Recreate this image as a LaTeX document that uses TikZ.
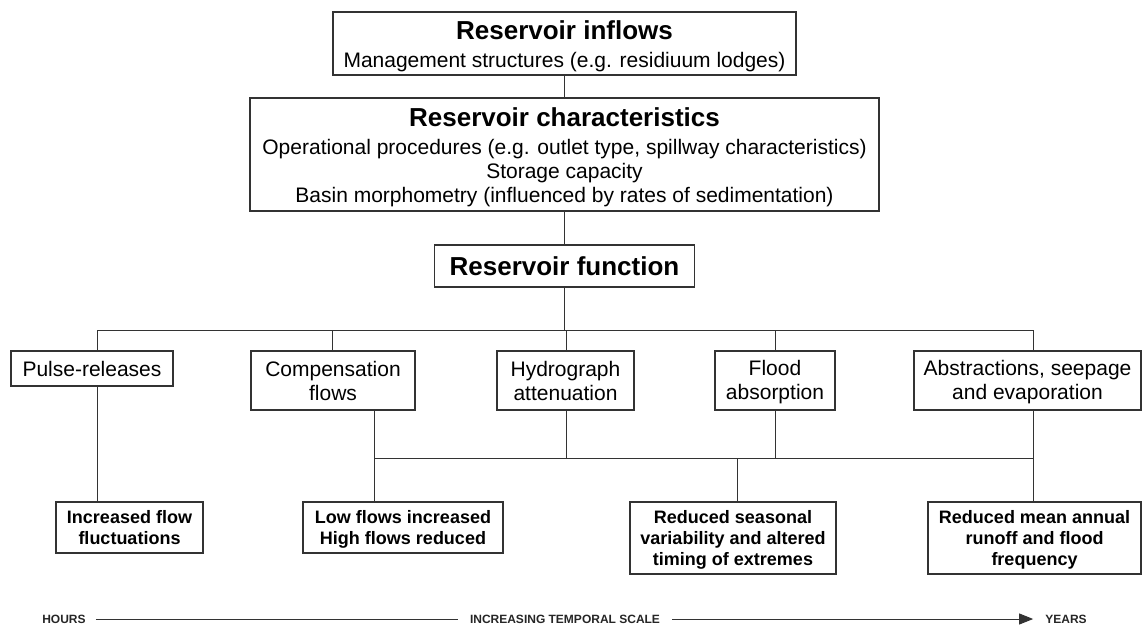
\documentclass[tikz,border=0pt]{standalone}
\usepackage{fontspec}
\setmainfont{Liberation Sans}
\usetikzlibrary{arrows.meta}
\newcommand\fTitle{\fontsize{26}{30}\selectfont\bfseries}
\newcommand\fBody{\fontsize{21}{24}\selectfont}
\newcommand\fRes{\fontsize{18}{21}\selectfont\bfseries}
\newcommand\fAxis{\fontsize{12}{14}\selectfont\bfseries}
% balanced strut: keeps each line centred on its capitals
\newcommand\ls{\rule[-0.2em]{0pt}{1.12em}}
\begin{document}
\begin{tikzpicture}[x=1pt,y=-1pt,
  box/.style={draw=black!80, line width=1.2pt, inner sep=0pt, align=center, font=\fBody},
  resbox/.style={box, font=\fRes},
  link/.style={draw=black!80, line width=1pt},
  axislabel/.style={inner sep=0pt, font=\fAxis, text=black!85}]
\useasboundingbox (0,0) rectangle (1142,628);

% --- upper chain ---
\node[box, minimum width=463pt, minimum height=63pt] (inflows) at (564.5,43.5)
  {{\fTitle\ls Reservoir inflows}\\[2pt]\ls Management structures (e.g. residiuum lodges)};
\node[box, minimum width=629pt, minimum height=113pt] (chars) at (564.5,154.5)
  {{\fTitle\ls Reservoir characteristics}\\[2pt]\ls Operational procedures (e.g. outlet type, spillway characteristics)\\\ls Storage capacity\\\ls Basin morphometry (influenced by rates of sedimentation)};
\node[box, minimum width=260pt, minimum height=42pt, font=\fTitle] (func) at (564.5,266) {\ls Reservoir function};

% --- reservoir functions ---
\node[box, minimum width=162pt, minimum height=35pt] (pulse) at (92,368.5) {\ls Pulse-releases};
\node[box, minimum width=164pt, minimum height=59pt] (comp) at (333,380.5) {\ls Compensation\\\ls flows};
\node[box, minimum width=137pt, minimum height=59pt] (hydro) at (565.5,380.5) {\ls Hydrograph\\\ls attenuation};
\node[box, minimum width=120pt, minimum height=59pt] (flood) at (775,380.5) {\ls Flood\\\ls absorption};
\node[box, minimum width=227pt, minimum height=59pt] (abstr) at (1027.5,380.5) {\ls Abstractions, seepage\\\ls and evaporation};

% --- downstream effects ---
\node[resbox, minimum width=147pt, minimum height=51pt] (incr) at (129.5,527.5) {\ls Increased flow\\\ls fluctuations};
\node[resbox, minimum width=200pt, minimum height=51pt] (low) at (403,527.5) {\ls Low flows increased\\\ls High flows reduced};
\node[resbox, minimum width=206pt, minimum height=72pt] (seas) at (733,538) {\ls Reduced seasonal\\\ls variability and altered\\\ls timing of extremes};
\node[resbox, minimum width=213pt, minimum height=72pt] (mean) at (1034.5,538) {\ls Reduced mean annual\\\ls runoff and flood\\\ls frequency};

% --- tap points on the bus lines ---
\coordinate (busA) at (565,330);
\coordinate (tapP) at (97,330);
\coordinate (tapC) at (332,330);
\coordinate (tapH) at (566,330);
\coordinate (tapF) at (775,330);
\coordinate (tapA) at (1033,330);
\coordinate (lowC) at (374,458);
\coordinate (lowH) at (566,458);
\coordinate (lowF) at (775,458);
\coordinate (lowA) at (1033,458);
\coordinate (lowS) at (737,458);

% --- connectors ---
\draw[link] (inflows.south) -- (inflows.south |- chars.north);
\draw[link] (chars.south) -- (chars.south |- func.north);
\draw[link] (func.south) -- (func.south |- busA);
\draw[link] (tapP) -- (tapA);
\draw[link] (tapP) -- (tapP |- pulse.north);
\draw[link] (tapC) -- (tapC |- comp.north);
\draw[link] (tapH) -- (tapH |- hydro.north);
\draw[link] (tapF) -- (tapF |- flood.north);
\draw[link] (tapA) -- (tapA |- abstr.north);

\draw[link] (tapP |- pulse.south) -- (tapP |- incr.north);
\draw[link] (lowC |- comp.south) -- (lowC);
\draw[link] (lowH |- hydro.south) -- (lowH);
\draw[link] (lowF |- flood.south) -- (lowF);
\draw[link] (lowA |- abstr.south) -- (lowA);
\draw[link] (lowC) -- (lowA);
\draw[link] (lowC) -- (lowC |- low.north);
\draw[link] (lowS) -- (lowS |- seas.north);
\draw[link] (lowA) -- (lowA |- mean.north);

% --- temporal scale axis ---
\node[axislabel] (hours) at (64,619) {HOURS};
\node[axislabel] (scale) at (565,619) {INCREASING TEMPORAL SCALE};
\node[axislabel] (years) at (1066,619) {YEARS};
\draw[link] (hours.east) ++(10,0) -- ([xshift=-12pt]scale.west);
\draw[link, -{Triangle[length=14pt,width=11pt]}] ([xshift=12pt]scale.east) -- ([xshift=-12pt]years.west);
\end{tikzpicture}
\end{document}
